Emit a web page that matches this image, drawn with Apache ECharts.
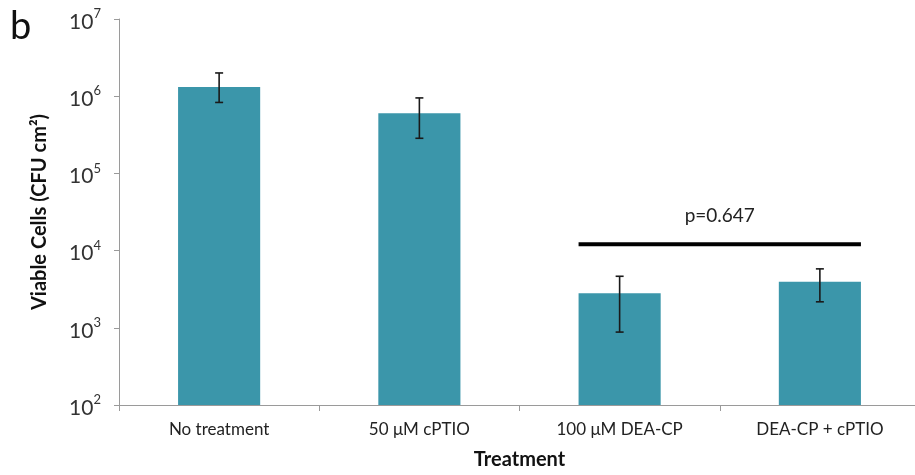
<!DOCTYPE html>
<html>
<head>
<meta charset="utf-8">
<script src="https://cdn.jsdelivr.net/npm/echarts@6/dist/echarts.min.js"></script>
<style>html,body{margin:0;padding:0;background:#fff;overflow:hidden}#c{width:935px;height:475px}</style>
</head>
<body>
<div id="c"></div>
<script>
const categories = ['No treatment', '50 μM cPTIO', '100 μM DEA-CP', 'DEA-CP + cPTIO'];
const means = [1.32e6, 6.0e5, 2.8e3, 3.95e3];
const errLow = [8.3e5, 2.85e5, 8.8e2, 2.17e3];
const errHigh = [2.0e6, 9.5e5, 4.65e3, 5.8e3];
const sigPair = [2, 3];
const sigLevel = 1.21e4;
const sigText = 'p=0.647';
const yTicks = [1e2, 1e3, 1e4, 1e5, 1e6, 1e7];

const FONT = 'Lato, "Open Sans", "Liberation Sans", sans-serif';
const chart = echarts.init(document.getElementById('c'), null, {renderer: 'canvas'});
const BAR_FRAC = 0.41;

chart.setOption({
  animation: false,
  backgroundColor: '#fff',
  graphic: [{type: 'text', left: 10, top: 8, style: {text: 'b', fontSize: 38, fontFamily: FONT, fill: '#111'}}],
  grid: {left: 119, top: 19, width: 801, height: 392, containLabel: false},
  xAxis: {
    type: 'category', data: categories,
    name: 'Treatment', nameLocation: 'middle', nameGap: 45,
    nameTextStyle: {fontFamily: FONT, fontWeight: 'bold', fontSize: 20, color: '#111'},
    axisLine: {lineStyle: {color: '#9a9a9a', width: 1}},
    axisTick: {show: true, length: 6, lineStyle: {color: '#9a9a9a'}},
    axisLabel: {fontFamily: FONT, fontSize: 17, color: '#222', margin: 16}
  },
  yAxis: {
    type: 'log', logBase: 10, min: yTicks[0], max: yTicks[yTicks.length - 1],
    name: 'Viable Cells (CFU cm²)', nameLocation: 'middle', nameGap: 69,
    nameTextStyle: {fontFamily: FONT, fontWeight: 'bold', fontSize: 20, color: '#111'},
    splitLine: {show: false},
    axisLine: {show: true, lineStyle: {color: '#9a9a9a', width: 1}},
    axisTick: {show: true, length: 5, lineStyle: {color: '#9a9a9a'}},
    axisLabel: {
      margin: 18, color: '#333',
      formatter: v => '{b|10}{s|' + Math.round(Math.log10(v)) + '}',
      rich: {
        b: {fontFamily: FONT, fontSize: 21, color: '#333', padding: [6, 0, 0, 0]},
        s: {fontFamily: FONT, fontSize: 13, color: '#333', padding: [0, 0, 10, 0]}
      }
    }
  },
  series: [
    {
      type: 'bar', data: means, barWidth: (BAR_FRAC * 100) + '%',
      itemStyle: {color: '#3b96aa'}
    },
    {
      type: 'custom',
      data: means.map((m, i) => [i, errLow[i], errHigh[i]]),
      z: 10,
      renderItem: (params, api) => {
        const x = api.value(0);
        const lo = api.coord([x, api.value(1)]);
        const hi = api.coord([x, api.value(2)]);
        const cx = lo[0], w = 4;
        const st = {stroke: '#1a1a1a', lineWidth: 1.6};
        return {type: 'group', children: [
          {type: 'line', shape: {x1: cx, y1: lo[1], x2: cx, y2: hi[1]}, style: st},
          {type: 'line', shape: {x1: cx - w, y1: lo[1], x2: cx + w, y2: lo[1]}, style: st},
          {type: 'line', shape: {x1: cx - w, y1: hi[1], x2: cx + w, y2: hi[1]}, style: st}
        ]};
      }
    },
    {
      type: 'custom',
      data: [[sigPair[0], sigPair[1], sigLevel]],
      z: 10,
      renderItem: (params, api) => {
        const a = api.coord([api.value(0), api.value(2)]);
        const b = api.coord([api.value(1), api.value(2)]);
        const half = api.size([1, 0])[0] * BAR_FRAC / 2;
        const x1 = a[0] - half, x2 = b[0] + half;
        return {type: 'group', children: [
          {type: 'line', shape: {x1: x1, y1: a[1], x2: x2, y2: a[1]}, style: {stroke: '#000', lineWidth: 4}},
          {type: 'text', style: {text: sigText, x: (x1 + x2) / 2, y: a[1] - 28, fontFamily: FONT, fontSize: 19, fill: '#222', align: 'center', verticalAlign: 'middle'}}
        ]};
      }
    }
  ]
});
</script>
</body>
</html>
